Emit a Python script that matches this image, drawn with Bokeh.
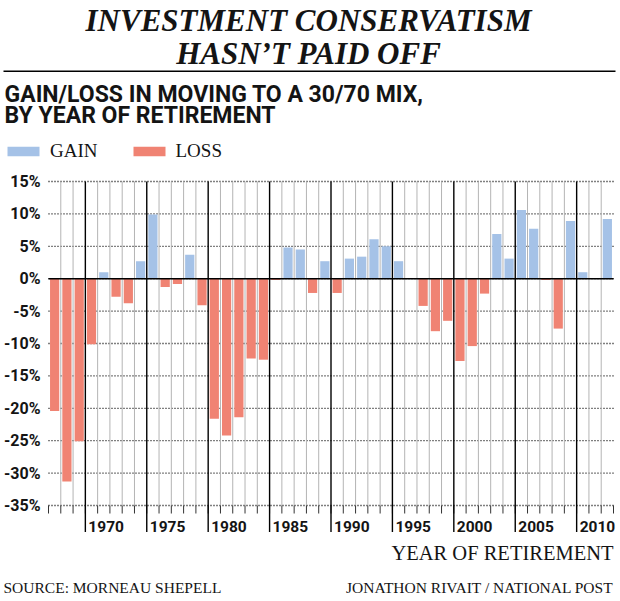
from bokeh.plotting import figure
from bokeh.models import Range1d, Label, BoxAnnotation, Legend, LegendItem, ColumnDataSource
from bokeh.core.properties import value
from bokeh.embed import file_html
from bokeh.resources import INLINE

# ---------------- data ----------------
years = list(range(1967, 2013))
change = [-20.4, -31.3, -25.1, -10.1, 1.0, -2.8, -3.8, 2.7, 9.9, -1.3,
          -0.8, 3.7, -4.1, -21.6, -24.2, -21.4, -12.3, -12.5, -0.2, 4.8,
          4.5, -2.2, 2.7, -2.2, 3.1, 3.4, 6.1, 5.0, 2.7, 0.0,
          -4.2, -8.1, -6.5, -12.7, -10.4, -2.3, 6.9, 3.1, 10.6, 7.7,
          -0.2, -7.7, 8.9, 1.0, 0.0, 9.2]
label_years = [1970, 1975, 1980, 1985, 1990, 1995, 2000, 2005, 2010]
y_ticks = [15, 10, 5, 0, -5, -10, -15, -20, -25, -30, -35]
y_tick_labels = [f"{t}%" for t in y_ticks]

title_lines = ["INVESTMENT CONSERVATISM", "HASN\u2019T PAID OFF"]
subtitle_lines = ["GAIN/LOSS IN MOVING TO A 30/70 MIX,", "BY YEAR OF RETIREMENT"]
x_title = "YEAR OF RETIREMENT"
source_text = "SOURCE: MORNEAU SHEPELL"
credit_text = "JONATHON RIVAIT / NATIONAL POST"

BLUE = "#a5c2e7"
RED = "#f08373"
INK = "#141414"
SANS = "Roboto"
SERIF = "Liberation Serif"

W, H = 620, 600
# pixel layout of the chart area inside the canvas
CH_L, CH_R = 48, 613          # left/right edge of the year slots
Y15_PX = 181                  # px (from top) of the 15% line
PX_PER_PCT = 6.48

x0, x1 = years[0] - 0.5, years[-1] + 0.5
ppy = (CH_R - CH_L) / (x1 - x0)
x_range = Range1d(x0 - CH_L / ppy, x1 + (W - CH_R) / ppy)
y_top = y_ticks[0] + Y15_PX / PX_PER_PCT
y_range = Range1d(y_top - H / PX_PER_PCT, y_top)

gain = ColumnDataSource(dict(x=[y for y, v in zip(years, change) if v > 0],
                             top=[v for v in change if v > 0]))
loss = ColumnDataSource(dict(x=[y for y, v in zip(years, change) if v < 0],
                             top=[v for v in change if v < 0]))

all_bounds = [y - 0.5 for y in years] + [x1]
major_bounds = [y - 0.5 for y in label_years]
grey_bounds = [b for b in all_bounds[1:-1] if b not in major_bounds]
y_min, y_max = y_ticks[-1], y_ticks[0]

p = figure(width=W, height=H, output_backend="svg", toolbar_location=None,
           x_range=x_range, y_range=y_range,
           x_axis_location=None, y_axis_location=None,
           min_border=0, outline_line_color=None,
           background_fill_color="white", border_fill_color="white")
p.xgrid.visible = False
p.ygrid.visible = False

# horizontal dotted gridlines
p.segment(x0=[x0] * len(y_ticks), x1=[x1] * len(y_ticks), y0=y_ticks, y1=y_ticks,
          line_color="black", line_width=1.3, line_dash="1 2")
# thin grey year separators
p.segment(x0=grey_bounds, x1=grey_bounds, y0=[y_min] * len(grey_bounds),
          y1=[y_max] * len(grey_bounds), line_color="#b4b4b4", line_width=1)
# small ticks under the bottom gridline
p.segment(x0=all_bounds, x1=all_bounds, y0=[y_min] * len(all_bounds),
          y1=[y_min - 8 / PX_PER_PCT] * len(all_bounds), line_color="#333333", line_width=1)
# black 5-year separators, running down past the axis
p.segment(x0=major_bounds, x1=major_bounds, y0=[y_max] * len(major_bounds),
          y1=[y_min - 26.5 / PX_PER_PCT] * len(major_bounds), line_color="black", line_width=1.4)

# bars
r_gain = p.vbar(x="x", top="top", bottom=0, width=0.75, source=gain,
                fill_color=BLUE, line_color=None)
r_loss = p.vbar(x="x", top="top", bottom=0, width=0.75, source=loss,
                fill_color=RED, line_color=None)

# zero line
p.segment(x0=[x0], x1=[x1], y0=[0], y1=[0], line_color="black", line_width=1.6)

# y tick labels
p.text(x=[x0] * len(y_ticks), y=y_ticks, text=y_tick_labels, x_offset=-8,
       text_align="right", text_baseline="middle",
       text_font=value(SANS), text_font_style="bold", text_font_size="16px",
       text_color=INK)
# year labels
p.text(x=major_bounds, y=[y_min] * len(label_years), text=[str(y) for y in label_years],
       x_offset=3, y_offset=21, text_align="left", text_baseline="middle",
       text_font=value(SANS), text_font_style="bold", text_font_size="15.5px",
       text_color=INK)

# legend
legend = Legend(items=[LegendItem(label="GAIN", renderers=[r_gain]),
                       LegendItem(label="LOSS", renderers=[r_loss])],
                orientation="horizontal", location=(3, H - 161.5),
                glyph_width=40, glyph_height=12, label_standoff=7, spacing=31,
                padding=0, margin=0, border_line_color=None, background_fill_alpha=0,
                label_text_font=SERIF, label_text_font_size="19px",
                label_text_color=INK, label_height=12)
p.add_layout(legend)


def add_text(text, sx, cy, font, size, style="normal", align="left"):
    """sx: page x; cy: page y of the capital letters' vertical centre."""
    p.add_layout(Label(x=sx, y=H - cy, x_units="screen", y_units="screen",
                       text=text, text_font=font, text_font_size=size,
                       text_font_style=style, text_align=align,
                       text_baseline="middle", text_color=INK))


add_text(title_lines[0], 308, 20, SERIF, "31px", "bold italic", "center")
add_text(title_lines[1], 308, 52.5, SERIF, "31px", "bold italic", "center")
add_text(subtitle_lines[0], 4, 94.2, SANS, "23px", "bold")
add_text(subtitle_lines[1], 4, 115, SANS, "23px", "bold")
add_text(x_title, 613, 552, SERIF, "20.5px", "normal", "right")
add_text(source_text, 3, 586.5, SERIF, "15.5px")
add_text(credit_text, 613, 586.5, SERIF, "15.5px", "normal", "right")

# horizontal rule under the headline
p.add_layout(BoxAnnotation(left=3, right=615, top=H - 70, bottom=H - 71.5,
                           left_units="screen", right_units="screen",
                           top_units="screen", bottom_units="screen",
                           fill_color="black", fill_alpha=1, line_color=None))

open("out.html", "w").write(file_html(p, INLINE))
